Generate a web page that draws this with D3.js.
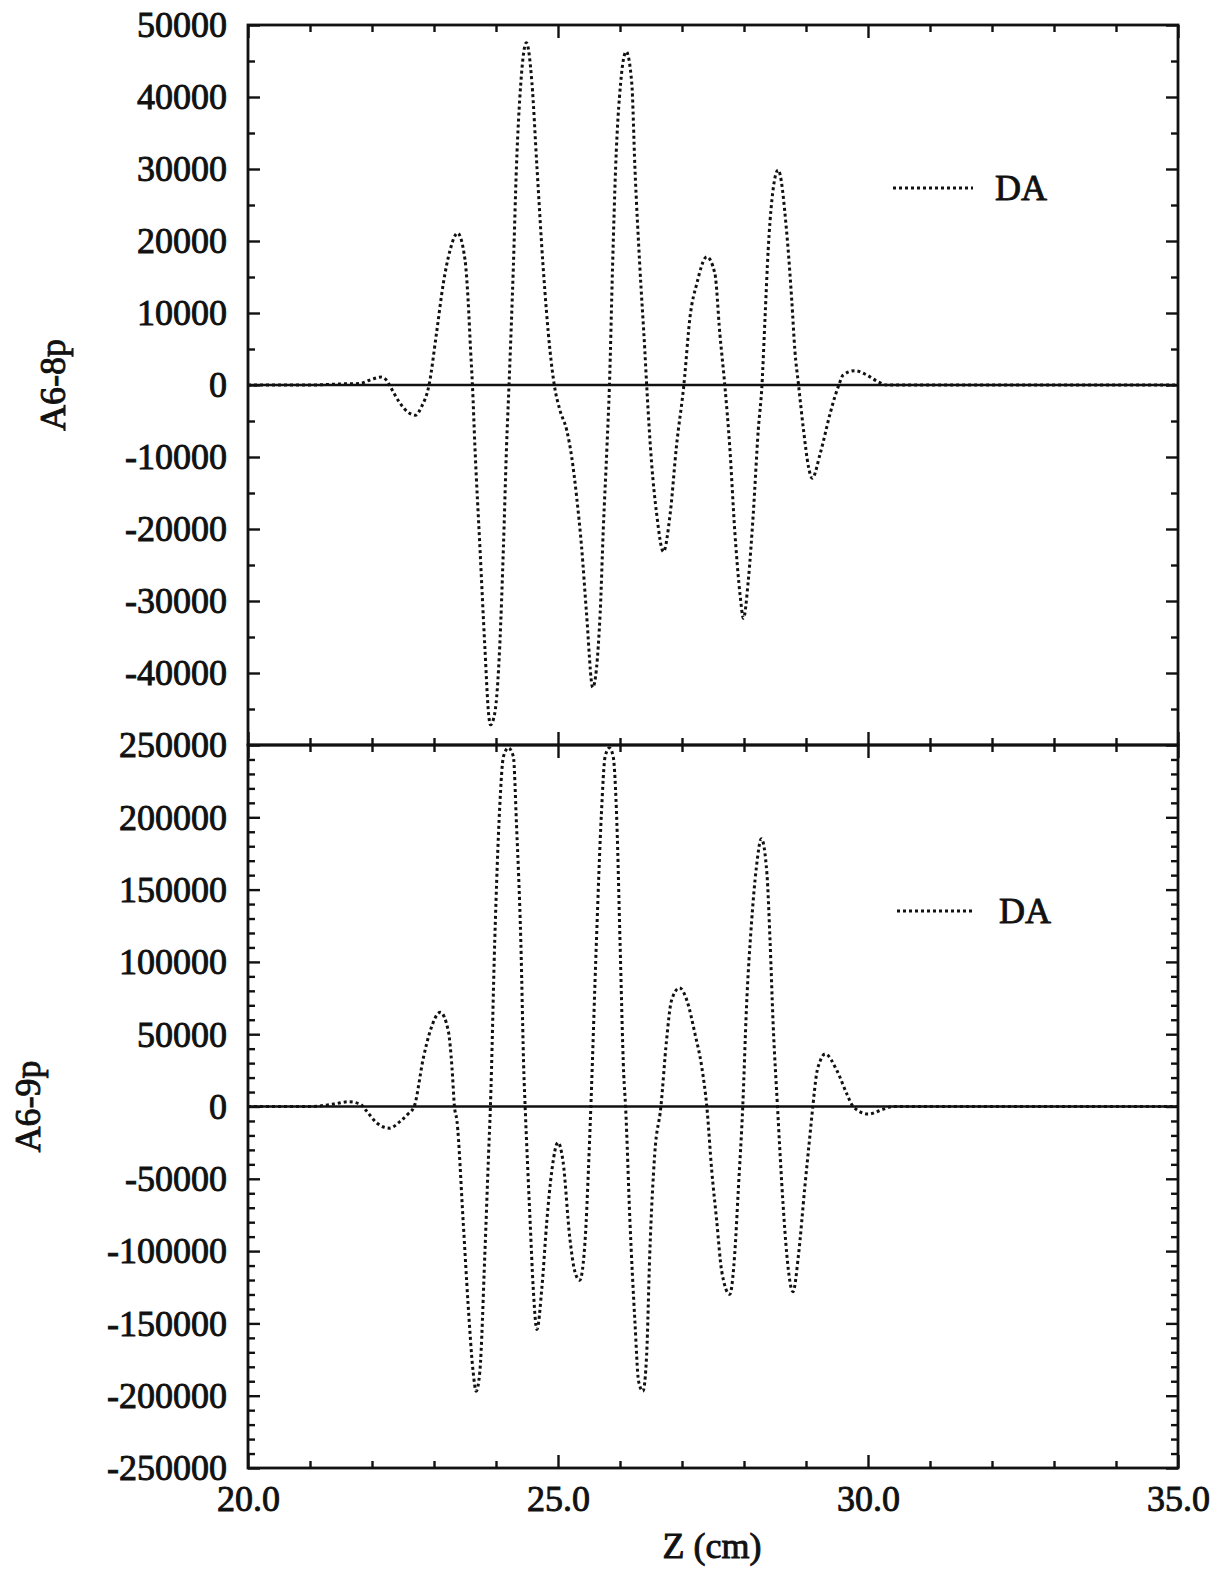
<!DOCTYPE html>
<html><head><meta charset="utf-8">
<script src="https://cdn.jsdelivr.net/npm/d3@7"></script>
<style>
html,body{margin:0;padding:0;background:#fff;}
svg{display:block;}
text{font-family:"Liberation Serif","Times New Roman",serif;fill:#111;stroke:#111;stroke-width:0.9px;}
</style></head><body>
<svg id="chart" width="1226" height="1570"></svg>
<script>
// ---------------- data ----------------
const seriesName = "DA";
const xTitle = "Z (cm)";
const topTitle = "A6-8p";
const botTitle = "A6-9p";

const zMajorTicks = [20, 25, 30, 35];
const zMajorLabels = ["20.0", "25.0", "30.0", "35.0"];
const zMinorTicks = [21, 22, 23, 24, 26, 27, 28, 29, 31, 32, 33, 34];

const topYLabels = [50000, 40000, 30000, 20000, 10000, 0, -10000, -20000, -30000, -40000];
const botYLabels = [250000, 200000, 150000, 100000, 50000, 0, -50000, -100000, -150000, -200000, -250000];

// A6-8p (top panel)
const topZ = [20.0, 21.0, 21.5, 21.8, 22.0, 22.15, 22.24, 22.30, 22.45, 22.60, 22.70, 22.80, 22.92,
  23.04, 23.15, 23.26, 23.38, 23.50, 23.55, 23.59, 23.62, 23.66, 23.74, 23.82, 23.88, 23.91, 23.98,
  24.06, 24.12, 24.17, 24.21, 24.28, 24.33, 24.40, 24.49, 24.58, 24.66, 24.76, 24.87, 24.94,
  25.03, 25.14, 25.22, 25.30, 25.38, 25.46, 25.56, 25.68, 25.73, 25.79, 25.83, 25.88, 25.93,
  26.01, 26.10, 26.19, 26.24, 26.32, 26.40, 26.43, 26.51, 26.59, 26.70, 26.81, 26.91, 27.03,
  27.13, 27.24, 27.40, 27.53, 27.61, 27.69, 27.77, 27.85, 27.94, 27.99, 28.07, 28.15, 28.23,
  28.29, 28.34, 28.39, 28.45, 28.55, 28.69, 28.77, 28.82, 28.88, 28.96, 29.04, 29.10, 29.23,
  29.39, 29.47, 29.53, 29.60, 29.79, 29.98, 30.16, 30.30, 35.0];
const topA = [0, 0, 150, 200, 800, 1100, 600, -300, -2500, -3900, -4200, -3000, 0,
  7170, 14100, 18750, 21100, 17400, 11800, 4860, 0, -8560, -22450, -36350, -45600, -47200, -45600,
  -36350, -22450, -8560, 0, 16430, 30320, 41900, 47550, 41900, 30320, 16430, 4860, 0,
  -3470, -6250, -9950, -15500, -22450, -31700, -42000, -31700, -20140, -8560, 0, 16430, 30320,
  41900, 46300, 41900, 30320, 16430, 4860, 0, -10880, -17820, -23150, -17820, -8560, 0,
  9490, 14120, 17800, 15510, 7170, 0, -8560, -20140, -29400, -32400, -27080, -17820, -6250,
  0, 9490, 18750, 25700, 29860, 21070, 11800, 4860, 0, -6250, -11350, -12960, -9490,
  -3930, -1500, 0, 1390, 1990, 1390, 460, 0, 0];

// A6-9p (bottom panel)
const botZ = [20.0, 21.0, 21.38, 21.62, 21.81, 21.91, 22.07, 22.28, 22.45, 22.58, 22.68,
  22.83, 22.94, 23.10, 23.23, 23.29, 23.33, 23.37, 23.47, 23.55, 23.63, 23.68, 23.74, 23.82, 23.88, 23.91,
  23.98, 24.06, 24.12, 24.20, 24.28, 24.33, 24.40, 24.45, 24.47,
  24.55, 24.60, 24.66, 24.74, 24.82, 24.90, 25.00, 25.08, 25.19, 25.27, 25.35, 25.44, 25.49, 25.53,
  25.62, 25.70, 25.76, 25.83, 25.89, 25.95, 26.00, 26.06, 26.09,
  26.16, 26.24, 26.30, 26.37, 26.43, 26.48, 26.56, 26.66,
  26.75, 26.83, 26.96, 27.08, 27.21, 27.32, 27.40,
  27.48, 27.56, 27.64, 27.77, 27.85, 27.91, 27.98,
  28.04, 28.12, 28.20, 28.28, 28.37, 28.42, 28.47, 28.54,
  28.63, 28.69, 28.79, 28.88, 28.98, 29.06, 29.11,
  29.17, 29.23, 29.31, 29.50, 29.66, 29.76, 30.00, 30.25, 30.40, 35.0];
const botA = [0, 0, 1660, 3250, 1660, -3000, -11080, -14960, -10500, -5260, 0,
  33930, 52420, 65100, 52420, 27010, 0, -9900, -79150, -136800, -183000, -196900, -183000, -102200, -33000, 0,
  114750, 207050, 242000, 248000, 242000, 195560, 114750, 22400, 0,
  -79150, -125300, -154200, -125300, -79150, -44500, -24900, -37600, -90700, -113800, -120200, -90700, -44500, 0,
  114750, 202500, 242000, 248000, 242000, 195560, 114750, 22400, 0,
  -79150, -148400, -190000, -196900, -171500, -102200, -33000, 0,
  45500, 73200, 82000, 73200, 50130, 27000, 0,
  -44500, -79150, -113800, -129900, -102200, -56100, 0,
  68560, 126300, 165500, 185200, 160900, 114750, 57060, 0,
  -67600, -102200, -128100, -102200, -56100, -21470, 0,
  22400, 31650, 36300, 24700, 8600, 0, -5260, -1800, 0, 0];

// ---------------- layout ----------------
const svg = d3.select("#chart");
const L = 248, R = 1178, T1 = 25, M = 745, B2 = 1468;
const x = d3.scaleLinear().domain([20, 35]).range([L, R]);
const yTop = d3.scaleLinear().domain([-50000, 50000]).range([M, T1]);
const yBot = d3.scaleLinear().domain([-250000, 250000]).range([B2, M]);
const FS = 36;
const fmt = d => String(d);

function styleAxis(g) {
  g.select(".domain").remove();
  g.selectAll(".tick line").attr("stroke", "#111").attr("stroke-width", 2.4);
  g.selectAll(".tick text").attr("font-size", FS).attr("fill", "#111");
}

function drawPanel(y, top, bottom, labels, minorStep, zArr, aArr, title, titleX, legendX1, legendY, showXLabels) {
  const g = svg.append("g");
  const yMinor = d3.range(y.domain()[0], y.domain()[1] + 1, minorStep).filter(v => !labels.includes(v) && v !== y.domain()[0]);
  const yMajor = labels.slice();
  // left axis
  g.append("g").attr("transform", `translate(${L},0)`)
    .call(d3.axisLeft(y).tickValues(yMajor).tickSizeInner(-12).tickSizeOuter(0).tickPadding(21).tickFormat(fmt))
    .call(styleAxis).selectAll(".tick text").attr("dy", "0.33em");
  g.append("g").attr("transform", `translate(${L},0)`)
    .call(d3.axisLeft(y).tickValues(yMinor).tickSizeInner(-7).tickSizeOuter(0).tickFormat(""))
    .call(styleAxis);
  // right axis
  g.append("g").attr("transform", `translate(${R},0)`)
    .call(d3.axisRight(y).tickValues(yMajor).tickSizeInner(-12).tickSizeOuter(0).tickFormat(""))
    .call(styleAxis);
  g.append("g").attr("transform", `translate(${R},0)`)
    .call(d3.axisRight(y).tickValues(yMinor).tickSizeInner(-7).tickSizeOuter(0).tickFormat(""))
    .call(styleAxis);
  // top ticks (inward = down)
  g.append("g").attr("transform", `translate(0,${top})`)
    .call(d3.axisTop(x).tickValues(zMajorTicks).tickSizeInner(-13).tickSizeOuter(0).tickFormat(""))
    .call(styleAxis);
  g.append("g").attr("transform", `translate(0,${top})`)
    .call(d3.axisTop(x).tickValues(zMinorTicks).tickSizeInner(-7).tickSizeOuter(0).tickFormat(""))
    .call(styleAxis);
  // bottom ticks (inward = up)
  g.append("g").attr("transform", `translate(0,${bottom})`)
    .call(d3.axisBottom(x).tickValues(zMajorTicks).tickSizeInner(-13).tickSizeOuter(0).tickPadding(17)
      .tickFormat((d, i) => showXLabels ? zMajorLabels[i] : ""))
    .call(styleAxis);
  g.append("g").attr("transform", `translate(0,${bottom})`)
    .call(d3.axisBottom(x).tickValues(zMinorTicks).tickSizeInner(-7).tickSizeOuter(0).tickFormat(""))
    .call(styleAxis);
  // zero line
  g.append("line").attr("x1", L).attr("x2", R).attr("y1", y(0)).attr("y2", y(0))
    .attr("stroke", "#111").attr("stroke-width", 2.5);
  // frame
  g.append("rect").attr("x", L).attr("y", top).attr("width", R - L).attr("height", bottom - top)
    .attr("fill", "none").attr("stroke", "#111").attr("stroke-width", 2.8);
  // clip
  const cid = "clip" + top;
  svg.append("clipPath").attr("id", cid).append("rect")
    .attr("x", L).attr("y", top).attr("width", R - L).attr("height", bottom - top);
  const line = d3.line().x(d => x(d[0])).y(d => y(d[1])).curve(d3.curveMonotoneX);
  g.append("path").datum(zArr.map((z, i) => [z, aArr[i]]))
    .attr("clip-path", `url(#${cid})`)
    .attr("d", line).attr("fill", "none").attr("stroke", "#111")
    .attr("stroke-width", 3).attr("stroke-dasharray", "3,3");
  // y title
  g.append("text").attr("transform", `translate(${titleX},${(top + bottom) / 2}) rotate(-90)`)
    .attr("text-anchor", "middle").attr("font-size", FS).text(title);
  // legend
  g.append("line").attr("x1", legendX1).attr("x2", 973).attr("y1", legendY).attr("y2", legendY)
    .attr("stroke", "#111").attr("stroke-width", 3).attr("stroke-dasharray", "3,3");
  g.append("text").attr("x", legendX1 + 102).attr("y", legendY + 12).attr("font-size", FS).text(seriesName);
}

drawPanel(yTop, T1, M, topYLabels, 5000, topZ, topA, topTitle, 65, 893, 188, false);
drawPanel(yBot, M, B2, botYLabels, 10000, botZ, botA, botTitle, 40, 897, 911, true);

svg.append("text").attr("x", 712).attr("y", 1558).attr("text-anchor", "middle")
  .attr("font-size", FS).text(xTitle);
</script>
</body></html>
